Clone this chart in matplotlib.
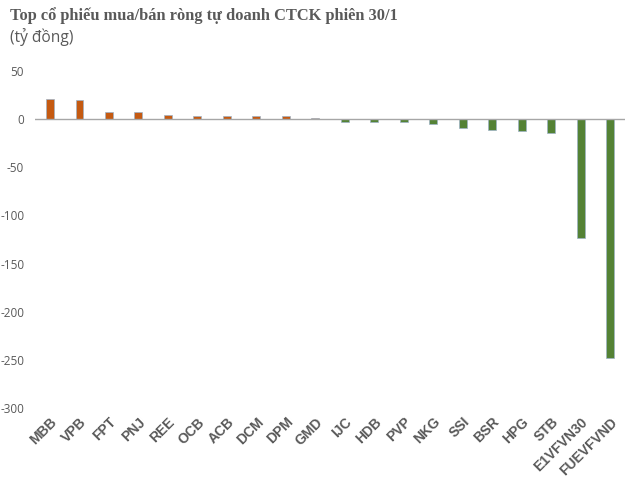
import matplotlib
matplotlib.use("Agg")
import matplotlib.pyplot as plt

tickers = ["MBB", "VPB", "FPT", "PNJ", "REE", "OCB", "ACB", "DCM", "DPM", "GMD",
           "IJC", "HDB", "PVP", "NKG", "SSI", "BSR", "HPG", "STB", "E1VFVN30", "FUEVFVND"]
values = [20.5, 19.5, 7.0, 7.0, 4.0, 3.0, 3.0, 3.0, 3.0, 1.5,
          -3.0, -3.0, -3.0, -5.0, -9.5, -11.0, -12.0, -14.0, -123.5, -248.0]
yticks = [50, 0, -50, -100, -150, -200, -250, -300]

pos_color = "#C55A11"
neg_color = "#548235"
text_grey = "#595959"

fig = plt.figure(figsize=(6.3, 4.8), dpi=100)
ax = fig.add_axes([0.056, 0.15, 0.936, 0.702])

x = list(range(len(tickers)))
colors = [pos_color if v >= 0 else neg_color for v in values]
ax.bar(x, values, width=0.27, color=colors, edgecolor="#9DB3C8", linewidth=0.5, zorder=2)

ax.axhline(0, color="#A6A6A6", linewidth=1.0, zorder=3)

ax.set_xlim(-0.5, len(tickers) - 0.5)
ax.set_ylim(-300, 50)
ax.set_yticks(yticks)
ax.set_yticklabels([str(t) for t in yticks], fontsize=8.5, color=text_grey, family="Open Sans")
ax.set_xticks(x)
ax.set_xticklabels(tickers, rotation=45, ha="right", rotation_mode="anchor",
                   fontsize=10, fontweight="bold", color=text_grey, family="Liberation Sans")
ax.tick_params(axis="both", length=0)
ax.tick_params(axis="y", pad=8)
ax.tick_params(axis="x", pad=5)
for s in ax.spines.values():
    s.set_visible(False)

fig.text(0.016, 0.968, "Top cổ phiếu mua/bán ròng tự doanh CTCK phiên 30/1",
         fontsize=11.8, fontweight="bold", color=text_grey, family="Liberation Serif",
         ha="left", va="center")
fig.text(0.016, 0.922, "(tỷ đồng)", fontsize=11.2, color=text_grey, family="Open Sans",
         ha="left", va="center")

fig.savefig("out.png", dpi=100)
